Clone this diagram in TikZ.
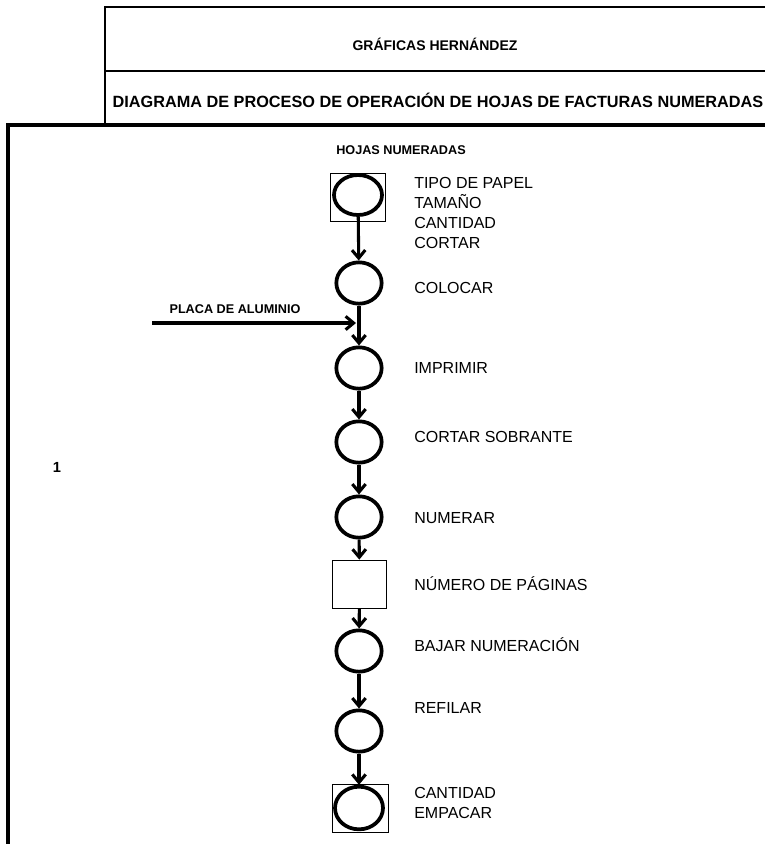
\documentclass[tikz,border=0pt]{standalone}
\usepackage{fontspec}
\setmainfont{Liberation Sans}
\usetikzlibrary{arrows.meta,positioning,shapes.geometric}

\begin{document}
\begin{tikzpicture}[x=0.75pt,y=-0.75pt,
        op/.style={ellipse,draw,line width=2.8pt,minimum width=34pt,minimum height=31pt,inner sep=0pt},
        insp/.style={draw,line width=0.6pt,minimum width=41pt,minimum height=36pt,inner sep=0pt},
        lbl/.style={anchor=west,align=left,inner sep=0pt,font=\fontsize{12}{15}\selectfont},
        small/.style={font=\bfseries\fontsize{9.5}{11}\selectfont},
        flow/.style={-{Straight Barb[length=6pt,width=10pt]},line width=2.3pt}]
    \useasboundingbox (0,0) rectangle (765,844);
    % encabezado
    \draw[line width=1.5pt] (766,7) -| (105,125);
    \draw[line width=1.5pt] (105,71) -- (766,71);
    \draw[line width=3pt] (8,846) |- (766,125);
    \node[font=\bfseries\fontsize{10.5}{12}\selectfont] (titulo) at (435,44) {GRÁFICAS HERNÁNDEZ};
    \node[font=\bfseries\fontsize{12.2}{14}\selectfont] (subtitulo) at (438,100)
        {DIAGRAMA DE PROCESO DE OPERACIÓN DE HOJAS DE FACTURAS NUMERADAS};
    \node[font=\bfseries\fontsize{11}{12}\selectfont] (uno) at (57,467) {1};

    \node[small] (hojas) at (401,150) {HOJAS NUMERADAS};

    % operaciones
    \node[insp] (b1) at (358,197) {};
    \node[op,minimum width=36pt,minimum height=30pt] (n1) at (358,195) {};
    \node[op] (n2) at (359,283) {};
    \node[op] (n3) at (359,368) {};
    \node[op] (n4) at (359,442) {};
    \node[op] (n5) at (359,517) {};
    \node[insp] (n6) at (359.5,584) {};
    \node[op] (n7) at (359,651) {};
    \node[op] (n8) at (359,731) {};
    \node[insp,minimum width=42pt] (b9) at (360,808) {};
    \node[op,minimum width=36pt,minimum height=32pt] (n9) at (359,808) {};

    \node[lbl] (t1) at (414,212.5) {TIPO DE PAPEL\\TAMAÑO\\CANTIDAD\\CORTAR};
    \node[lbl] (t2) at (414,288) {COLOCAR};
    \node[lbl] (t3) at (414,368) {IMPRIMIR};
    \node[lbl] (t4) at (414,437) {CORTAR SOBRANTE};
    \node[lbl] (t5) at (414,518) {NUMERAR};
    \node[lbl] (t6) at (414,584) {NÚMERO DE PÁGINAS};
    \node[lbl] (t7) at (414,645) {BAJAR NUMERACIÓN};
    \node[lbl] (t8) at (414,708) {REFILAR};
    \node[lbl] (t9) at (414,803) {CANTIDAD\\EMPACAR};

    \draw[flow] (n1) -- (n2);
    \draw[flow] (n2) -- (n3);
    \draw[flow] (n3) -- (n4);
    \draw[flow] (n4) -- (n5);
    \draw[flow] (n5) -- (n6);
    \draw[flow] (n6) -- (n7);
    \draw[flow] (n7) -- (n8);
    \draw[flow] (n8) -- (n9);

    % entrada de placa
    \coordinate (placa) at (152,323);
    \coordinate (placafin) at (356,323);
    \draw[flow] (placa) -- (placafin);
    \node[small] (placalbl) at (235,309) {PLACA DE ALUMINIO};
\end{tikzpicture}
\end{document}
